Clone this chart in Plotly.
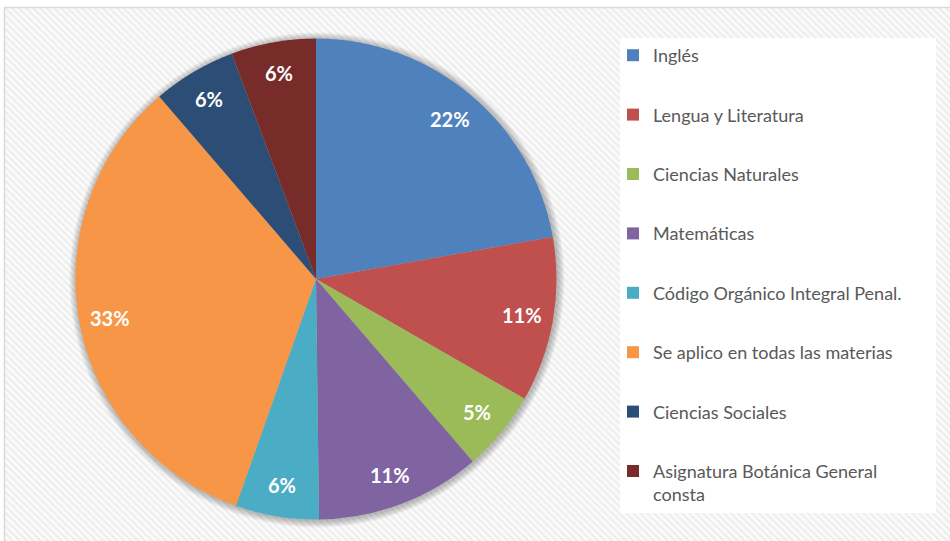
import base64
import math
import plotly.graph_objects as go

categories = ["Inglés", "Lengua y Literatura", "Ciencias Naturales", "Matemáticas",
              "Código Orgánico Integral Penal.", "Se aplico en todas las materias",
              "Ciencias Sociales", "Asignatura Botánica General<br>consta"]
values = [22.2, 11.1, 5.4, 11.1, 5.6, 33.3, 5.6, 5.7]
colors = ["#4F81BD", "#C0504D", "#9BBB59", "#8064A2", "#4BACC6", "#F79646", "#2C4D75", "#772C2A"]

W, H = 950, 541
CX, CY, R = 316, 279, 240.5
LABEL_R = 0.87 * R

fig = go.Figure()
fig.add_trace(go.Pie(
    labels=categories, values=values, sort=False, direction="clockwise", rotation=0,
    marker=dict(colors=colors, line=dict(width=0)),
    textinfo="none", showlegend=False, hoverinfo="label+percent",
    domain=dict(x=[(CX - R) / W, (CX + R) / W], y=[(H - CY - R) / H, (H - CY + R) / H]),
))

for i, (cat, col) in enumerate(zip(categories, colors)):
    fig.add_trace(go.Scatter(
        x=[None], y=[None], mode="markers", name=cat, legendgroup=f"g{i}",
        marker=dict(symbol="square", size=12, color=col), showlegend=True,
    ))

# percentage labels placed along each slice's bisector (derived from the values)
total = sum(values)
annotations = []
cum = 0.0
for v in values:
    theta = 2 * math.pi * (cum + v / 2) / total
    cum += v
    annotations.append(dict(
        xref="paper", yref="paper", x=CX / W, y=(H - CY) / H, showarrow=False,
        xanchor="center", yanchor="middle",
        xshift=LABEL_R * math.sin(theta), yshift=LABEL_R * math.cos(theta),
        text=f"<b>{v / total:.0%}</b>",
        font=dict(family="Lato", size=20, color="white"),
    ))

svg = ('<svg xmlns="http://www.w3.org/2000/svg" width="950" height="541">'
       '<defs><pattern id="p" width="7" height="7" patternUnits="userSpaceOnUse">'
       '<rect width="7" height="7" fill="#fbfbfb"/>'
       '<path d="M0,0 L7,7 M-1,6 L1,8 M6,-1 L8,1" stroke="#ededed" stroke-width="2.2"/>'
       '</pattern></defs><rect width="950" height="541" fill="url(#p)"/></svg>')
src = "data:image/svg+xml;base64," + base64.b64encode(svg.encode()).decode()

shapes = []
for k in range(7, 0, -1):
    shapes.append(dict(type="circle", xref="paper", yref="paper", layer="below",
                       xsizemode="pixel", ysizemode="pixel",
                       xanchor=(CX + 1) / W, yanchor=(H - CY - 1) / H,
                       x0=-(R + k), x1=R + k, y0=-(R + k), y1=R + k,
                       fillcolor="rgba(0,0,0,0.04)", line=dict(width=0)))
shapes.append(dict(type="rect", xref="paper", yref="paper", layer="below",
                   x0=620 / W, x1=936 / W, y0=1 - 513 / H, y1=1 - 38 / H,
                   fillcolor="white", line=dict(width=0)))
shapes.append(dict(type="rect", xref="paper", yref="paper", layer="below",
                   x0=4.5 / W, x1=1.02, y0=-0.02, y1=1 - 7.5 / H,
                   fillcolor="rgba(0,0,0,0)", line=dict(color="#d9d9d9", width=1.5)))

fig.update_layout(
    width=W, height=H, margin=dict(l=0, r=0, t=0, b=0),
    paper_bgcolor="white", plot_bgcolor="rgba(0,0,0,0)",
    xaxis=dict(visible=False), yaxis=dict(visible=False),
    images=[dict(source=src, xref="paper", yref="paper", x=4 / W, y=1 - 7 / H,
                 sizex=1 - 4 / W, sizey=1 - 7 / H, xanchor="left", yanchor="top",
                 sizing="stretch", layer="below")],
    shapes=shapes,
    annotations=annotations,
    legend=dict(x=613 / W, y=1 - 37 / H, xanchor="left", yanchor="top",
                bgcolor="rgba(0,0,0,0)", borderwidth=0, tracegroupgap=33, valign="top",
                font=dict(family="Lato", size=18, color="#595959")),
    showlegend=True,
)

fig.write_html("out.html", config={"displayModeBar": False},
               post_script="document.body.style.margin='0';")
